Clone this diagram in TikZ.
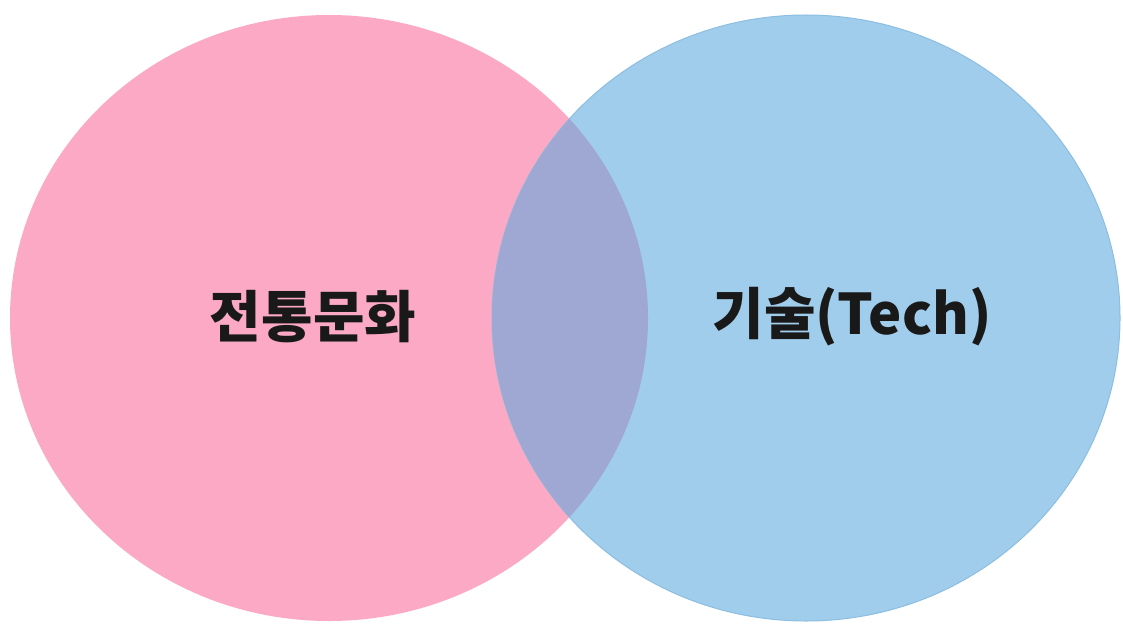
\documentclass[tikz,border=0pt]{standalone}
\usepackage{fontspec}
\newfontfamily\kofont{Noto Sans CJK KR}
\definecolor{pinkset}{RGB}{251,169,196}
\definecolor{blueset}{RGB}{160,205,235}
\definecolor{blueedge}{RGB}{140,190,225}
\definecolor{bothset}{RGB}{158,168,211}
\tikzset{
  SetLabel/.style = { font = \kofont\bfseries\fontsize{56}{64}\selectfont,
                      text = black!90, inner sep = 0pt } }

\begin{document}
\begin{tikzpicture}[x=1pt,y=-1pt]
  \useasboundingbox (0,0) rectangle (1123,623);
  \fill[pinkset] (329,318) ellipse [x radius=319, y radius=303];
  \fill[blueset, draw=blueedge, line width=1pt] (806,318) ellipse [x radius=314, y radius=303];
  \begin{scope}
    \clip (329,318) ellipse [x radius=319, y radius=303];
    \fill[bothset] (806,318) ellipse [x radius=314, y radius=303];
  \end{scope}

  \node[SetLabel] (trad) at (313,317) {전통문화};
  \node[SetLabel] (tech) at (852,317) {기술(Tech)};
\end{tikzpicture}
\end{document}
